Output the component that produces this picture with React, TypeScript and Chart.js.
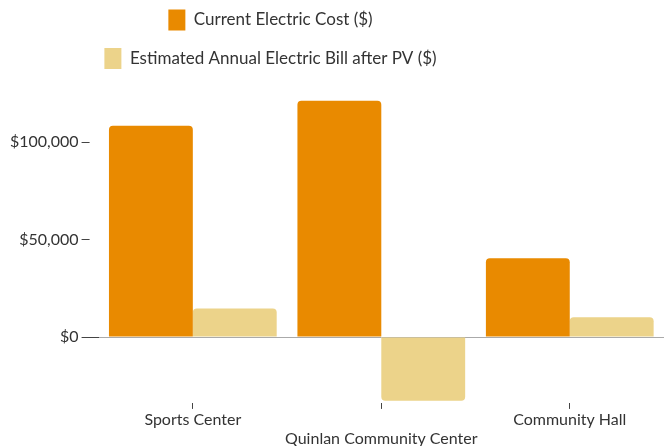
import React, { useEffect, useRef } from 'react';
import { Chart, registerables } from 'chart.js';

Chart.register(...registerables);

const categories = ['Sports Center', 'Quinlan Community Center', 'Community Hall'];
const seriesNames = ['Current Electric Cost ($)', 'Estimated Annual Electric Bill after PV ($)'];
const currentCost = [108300, 121200, 40400];
const billAfterPV = [14700, -32700, 10200];
const yTickValues = [0, 50000, 100000];
const yMin = -33760;
const yMax = 128200;

const ORANGE = '#E98A00';
const LIGHT = '#ECD38A';
const TEXT = '#333333';

const LEGEND_W = 400;
const LEGEND_CX = 270.5;
const LEGEND_TOP = -8;

const legendWrap = {
  id: 'legendWrap',
  afterInit(chart: any) {
    const lg: any = chart.legend;
    if (!lg || lg.__wrapped) return;
    const orig = lg.update.bind(lg);
    lg.update = (mw: number, mh: number, margins: any) => orig(Math.min(mw, LEGEND_W), mh, margins);
    lg.__wrapped = true;
  },
  beforeDraw(chart: any) {
    const lg: any = chart.legend;
    if (!lg) return;
    lg.left = LEGEND_CX - LEGEND_W / 2;
    lg.right = LEGEND_CX + LEGEND_W / 2;
    lg.width = LEGEND_W;
    lg.top = LEGEND_TOP;
  },
};

export default function App() {
  const ref = useRef<HTMLCanvasElement | null>(null);
  useEffect(() => {
    if (!ref.current) return;
    Chart.defaults.font.family = 'Lato';
    const chart = new Chart(ref.current, {
      type: 'bar',
      data: {
        labels: categories,
        datasets: [
          {
            label: seriesNames[0],
            data: currentCost,
            backgroundColor: ORANGE,
            borderRadius: 4,
            borderSkipped: 'start',
            categoryPercentage: 0.89,
            barPercentage: 1.0,
          },
          {
            label: seriesNames[1],
            data: billAfterPV,
            backgroundColor: LIGHT,
            borderRadius: 4,
            borderSkipped: 'start',
            categoryPercentage: 0.89,
            barPercentage: 1.0,
          },
        ],
      },
      options: {
        animation: false,
        responsive: true,
        maintainAspectRatio: false,
        layout: { padding: { left: 7, right: 4, top: 0, bottom: -3 } },
        plugins: {
          tooltip: { enabled: false },
          legend: {
            position: 'top',
            align: 'center',
            labels: {
              boxWidth: 17,
              boxHeight: 21,
              padding: 17.5,
              color: TEXT,
              font: { family: 'Lato', size: 17 },
            },
          },
        },
        scales: {
          x: {
            offset: true,
            border: { display: false },
            grid: {
              display: true,
              offset: false,
              drawOnChartArea: false,
              drawTicks: true,
              color: 'rgba(0,0,0,0)',
              tickColor: '#444',
              tickLength: 6,
            },
            ticks: {
              color: TEXT,
              padding: 1,
              maxRotation: 0,
              autoSkip: false,
              font: { family: 'Lato', size: 16, lineHeight: 1.19 },
              callback: (_v: any, i: number) => (i % 2 === 1 ? ['', categories[i]] : categories[i]),
            },
          },
          y: {
            min: yMin,
            max: yMax,
            border: { display: false },
            afterBuildTicks: (scale: any) => {
              scale.ticks = yTickValues.map((v) => ({ value: v }));
            },
            grid: {
              color: (ctx: any) => (ctx.tick && ctx.tick.value === 0 ? '#aaaaaa' : 'rgba(0,0,0,0)'),
              tickColor: '#444',
              tickLength: 17,
              tickBorderDash: (ctx: any) => (ctx.tick && ctx.tick.value === 0 ? [] : [8, 30]),
            },
            ticks: {
              color: TEXT,
              padding: 3,
              font: { family: 'Lato', size: 16 },
              callback: (v: any) => '$' + Number(v).toLocaleString('en-US'),
            },
          },
        },
      },
      plugins: [legendWrap],
    } as any);
    return () => chart.destroy();
  }, []);
  return (
    <div style={{ position: 'fixed', left: 0, top: 0, width: 668, height: 446, background: '#fff' }}>
      <canvas ref={ref} />
    </div>
  );
}
